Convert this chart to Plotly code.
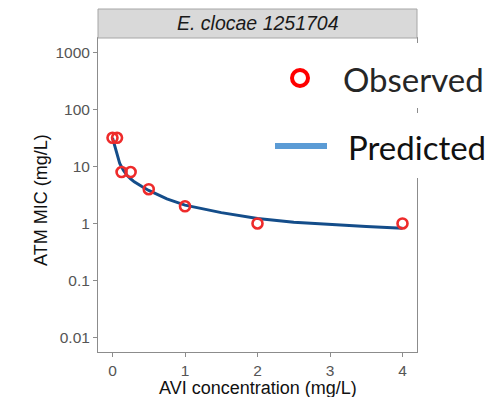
import plotly.graph_objects as go

# Observed data
obs_conc = [0, 0.0625, 0.125, 0.25, 0.5, 1, 2, 4]
obs_mic = [32, 32, 8, 8, 4, 2, 1, 1]

# Predicted curve
pred_conc = [0, 0.025, 0.05, 0.075, 0.1, 0.15, 0.2, 0.25, 0.3, 0.4, 0.5, 0.75,
             1, 1.5, 2, 2.5, 3, 3.5, 4]
pred_mic = [32, 25, 18.5, 14, 11.3, 8.6, 7.0, 6.1, 5.4, 4.5, 3.8, 2.7,
            2.1, 1.55, 1.22, 1.05, 0.95, 0.88, 0.82]

y_ticks = [0.01, 0.1, 1, 10, 100, 1000]
y_tick_labels = ["0.01", "0.1", "1", "10", "100", "1000"]
x_ticks = [0, 1, 2, 3, 4]

x_title = "AVI concentration (mg/L)"
y_title = "ATM MIC (mg/L)"
strip_title = "E. clocae 1251704"
legend_labels = ["Observed", "Predicted"]

W, H = 489, 397
L, R, T, B = 98, 72, 38, 45
pw, ph = W - L - R, H - T - B


def px(x):
    return (x - L) / pw


def py(y):
    return (H - B - y) / ph


fig = go.Figure()
fig.add_trace(go.Scatter(x=pred_conc, y=pred_mic, mode="lines",
                         line=dict(color="#144d8a", width=3), showlegend=False))
fig.add_trace(go.Scatter(x=obs_conc, y=obs_mic, mode="markers",
                         marker=dict(symbol="circle-open", size=10, color="#ee2b2b",
                                     line=dict(width=2.6, color="#ee2b2b")),
                         showlegend=False))

axis_common = dict(showline=True, mirror=True, linecolor="#8c8c8c", linewidth=1,
                   ticks="outside", ticklen=4, tickcolor="#8c8c8c", showgrid=False,
                   zeroline=False, automargin=False,
                   tickfont=dict(family="Liberation Sans", size=15.5, color="#555555"))

fig.update_xaxes(range=[-0.2, 4.2], tickvals=x_ticks, **axis_common)
fig.update_yaxes(type="log", range=[-2.26, 3.26], tickvals=y_ticks, ticktext=y_tick_labels,
                 **axis_common)

shapes = [
    # strip
    dict(type="rect", xref="paper", yref="paper", x0=0, x1=1, y0=1, y1=py(9),
         fillcolor="#d9d9d9", line=dict(color="#a6a6a6", width=1), layer="above"),
    # white legend patches
    dict(type="rect", xref="paper", yref="paper", x0=px(268), x1=px(489), y0=py(108), y1=py(43),
         fillcolor="white", line=dict(width=0), layer="above"),
    dict(type="rect", xref="paper", yref="paper", x0=px(268), x1=px(489), y0=py(178), y1=py(113),
         fillcolor="white", line=dict(width=0), layer="above"),
    # legend circle
    dict(type="circle", xref="paper", yref="paper", x0=px(292), x1=px(308), y0=py(86), y1=py(70),
         fillcolor="rgba(0,0,0,0)", line=dict(color="#ff0000", width=4), layer="above"),
    # legend line
    dict(type="line", xref="paper", yref="paper", x0=px(275), x1=px(327), y0=py(146), y1=py(146),
         line=dict(color="#5b9bd5", width=6), layer="above"),
]

title_font = dict(family="Liberation Sans", size=18, color="#111111")
annotations = [
    dict(text=x_title, xref="paper", yref="paper", x=0.5, y=py(388),
         showarrow=False, xanchor="center", yanchor="middle", font=title_font),
    dict(text=y_title, xref="paper", yref="paper", x=px(41), y=py(200), textangle=-90,
         showarrow=False, xanchor="center", yanchor="middle", font=title_font),
    dict(text="<i>" + strip_title + "</i>", xref="paper", yref="paper", x=0.5, y=py(23.5),
         showarrow=False, font=dict(family="Liberation Sans", size=19.5, color="#1a1a1a"),
         xanchor="center", yanchor="middle"),
    dict(text=legend_labels[0], xref="paper", yref="paper", x=px(341), y=py(79),
         showarrow=False, xanchor="left", yanchor="middle",
         font=dict(family="Lato", size=33, color="#262626")),
    dict(text=legend_labels[1], xref="paper", yref="paper", x=px(346), y=py(147),
         showarrow=False, xanchor="left", yanchor="middle",
         font=dict(family="Lato", size=33, color="#111111")),
]

fig.update_layout(width=W, height=H, margin=dict(l=L, r=R, t=T, b=B),
                  plot_bgcolor="white", paper_bgcolor="white",
                  shapes=shapes, annotations=annotations, showlegend=False)

fig.write_html("out.html")
